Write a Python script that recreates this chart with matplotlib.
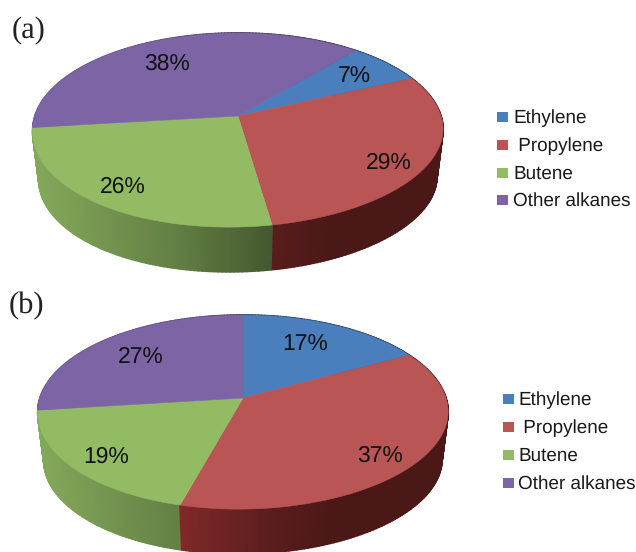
import numpy as np
import matplotlib
matplotlib.use("Agg")
import matplotlib.pyplot as plt
from matplotlib.collections import PolyCollection
from matplotlib.patches import Polygon, Rectangle

categories = ["Ethylene", " Propylene", "Butene", "Other alkanes"]
shares_a = [7, 29, 26, 38]
shares_b = [17, 37, 19, 27]
colors = ["#4A7EBD", "#BA5555", "#92BB64", "#7C64A5"]
rim_colors = ["#4A7EBD", "#BC3C3C", "#92BB64", "#7C64A5"]

plt.rcParams["font.family"] = ["Liberation Sans", "DejaVu Sans"]
plt.rcParams["text.hinting"] = "no_hinting"

fig = plt.figure(figsize=(6.36, 5.52), dpi=100)
ax = fig.add_axes([0, 0, 1, 1])
ax.set_xlim(0, 636)
ax.set_ylim(552, 0)
ax.axis("off")


def shade(position):
    """Darkening of the rim from left to right across the disk."""
    return np.interp(position, [0, 0.35, 0.57, 0.72, 1], [0.9, 0.68, 0.48, 0.4, 0.4])


def pie3d(values, cx, cy, start, skew, rx=203, ry=95, k=0.145, depth=48, taper=0.97):
    """Perspective pie: slices run clockwise from `start` degrees past 12 o'clock."""

    def top(theta, scale=1.0, drop=0.0):
        u, v = np.sin(theta), -np.cos(theta)
        w = 1 - k * v
        lean = skew * np.clip(v, 0, 1) ** 2
        return np.column_stack((cx - lean + scale * rx * u / w, cy + drop + scale * ry * v / w))

    edges = np.radians(start + np.cumsum([0] + list(values)) * 3.6)
    quads, quad_colors, depths = [], [], []
    for i in range(len(values)):
        n = max(int(np.degrees(edges[i + 1] - edges[i])), 2)
        theta = np.linspace(edges[i], edges[i + 1], n + 1)
        upper = top(theta)
        lower = top(theta, taper, depth)
        base = np.array(matplotlib.colors.to_rgb(rim_colors[i]))
        for j in range(n):
            quads.append([upper[j], upper[j + 1], lower[j + 1], lower[j]])
            mid = 0.5 * (upper[j, 0] + upper[j + 1, 0])
            quad_colors.append(base * shade((mid - (cx - rx)) / (2 * rx)))
            depths.append(-np.cos(0.5 * (theta[j] + theta[j + 1])))
    order = np.argsort(depths)
    rim = PolyCollection(
        [quads[o] for o in order],
        facecolors=[quad_colors[o] for o in order],
        edgecolors=[quad_colors[o] for o in order],
        linewidths=1.3,
        zorder=2,
    )
    ax.add_collection(rim)

    for i in range(len(values)):
        theta = np.linspace(edges[i], edges[i + 1], 200)
        ring = top(theta)
        ax.add_patch(Polygon(np.vstack(([[cx, cy]], ring)), closed=True,
                             facecolor=colors[i], edgecolor=colors[i], linewidth=0.4, zorder=3))


def legend(x, ys, text_x):
    for name, color, y in zip(categories, colors, ys):
        ax.add_patch(Rectangle((x, y - 5), 10.5, 10, facecolor=color, edgecolor="none", zorder=3))
        ax.text(text_x, y + 1, name, fontsize=13.6, color="#1a1a1a", va="center", ha="left")


def labels(values, spots):
    for value, (x, y) in zip(values, spots):
        ax.text(x, y, f"{value}%", fontsize=16.5, color="#111111", ha="center", va="center", zorder=4)


pie3d(shares_a, 238, 116, 40, skew=9)
pie3d(shares_b, 243, 398, 0, skew=4.5)

labels(shares_a, [(354, 77), (389, 163), (123, 187), (167, 64)])
labels(shares_b, [(305, 345), (380, 456), (106, 457), (141, 357)])

legend(497, [117, 145, 173, 200], 513)
legend(503, [399, 427, 455, 483], 518)

ax.text(12, 31, "(a)", family=["Liberation Serif"], fontsize=22, color="#222222", ha="left", va="center")
ax.text(9, 306, "(b)", family=["Liberation Serif"], fontsize=22, color="#222222", ha="left", va="center")

fig.savefig("out.png", dpi=100)
